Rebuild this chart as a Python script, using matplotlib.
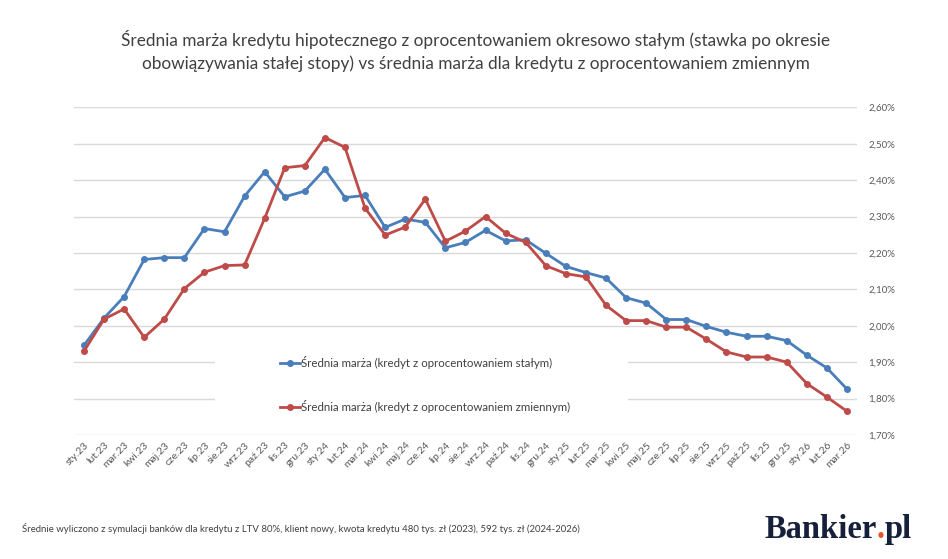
import matplotlib
matplotlib.use("Agg")
import matplotlib.pyplot as plt
from matplotlib.patches import Rectangle
from matplotlib.ticker import FuncFormatter, MultipleLocator

# months sty.23 .. mar.26
months = ["sty", "lut", "mar", "kwi", "maj", "cze", "lip", "sie", "wrz", "paź", "lis", "gru"]
labels = [f"{m}.{y}" for y in ("23", "24", "25") for m in months] + ["sty.26", "lut.26", "mar.26"]

# average margin, fixed-period rate loans (%)
fixed_margin = [
    1.946, 2.021, 2.080, 2.182, 2.187, 2.187, 2.267, 2.258, 2.356, 2.423, 2.354, 2.370,
    2.430, 2.352, 2.358, 2.270, 2.293, 2.284, 2.214, 2.229, 2.262, 2.233, 2.236, 2.199,
    2.163, 2.146, 2.131, 2.077, 2.062, 2.017, 2.017, 1.998, 1.982, 1.971, 1.971, 1.959,
    1.919, 1.884, 1.826,
]
# average margin, variable rate loans (%)
variable_margin = [
    1.930, 2.018, 2.046, 1.968, 2.018, 2.102, 2.147, 2.165, 2.167, 2.295, 2.434, 2.440,
    2.517, 2.490, 2.323, 2.249, 2.271, 2.348, 2.232, 2.260, 2.300, 2.254, 2.229, 2.165,
    2.143, 2.134, 2.056, 2.014, 2.014, 1.996, 1.996, 1.963, 1.928, 1.914, 1.914, 1.900,
    1.841, 1.804, 1.765,
]

fixed_name = "Średnia marża (kredyt z oprocentowaniem stałym)"
variable_name = "Średnia marża (kredyt z oprocentowaniem zmiennym)"
title = ("Średnia marża kredytu hipotecznego z oprocentowaniem okresowo stałym (stawka po okresie\n"
         "obowiązywania stałej stopy) vs średnia marża dla kredytu z oprocentowaniem zmiennym")
note = ("Średnie wyliczono z symulacji banków dla kredytu z LTV 80%, klient nowy, "
        "kwota kredytu 480 tys. zł (2023), 592 tys. zł (2024-2026)")

plt.rcParams["font.family"] = ["Lato", "DejaVu Sans"]

fig = plt.figure(figsize=(9.48, 5.59), dpi=100)
ax = fig.add_axes([0.078, 0.222, 0.826, 0.586])

x = list(range(len(labels)))
ax.plot(x, fixed_margin, color="#4A7EBB", lw=2.0, marker="o", ms=4, label=fixed_name, zorder=3)
ax.plot(x, variable_margin, color="#BE4B48", lw=2.0, marker="o", ms=4, label=variable_name, zorder=3)

ax.set_xlim(-0.5, len(labels) - 0.5)
ax.set_ylim(1.70, 2.60)
ax.yaxis.set_major_locator(MultipleLocator(0.10))
ax.yaxis.tick_right()
ax.yaxis.set_major_formatter(FuncFormatter(lambda v, p: f"{v:.2f}%".replace(".", ",")))
ax.grid(axis="y", color="#D9D9D9", lw=1)
ax.set_axisbelow(True)
for s in ax.spines.values():
    s.set_visible(False)
ax.tick_params(length=0, labelsize=7, labelcolor="#595959")
ax.tick_params(axis="y", pad=8)
ax.tick_params(axis="x", labelsize=7.5, pad=4)
ax.set_xticks(x)
ax.set_xticklabels(labels, rotation=45, ha="right", rotation_mode="anchor")

# white box behind legend hides grid lines
ax.add_patch(Rectangle((0.18, 0.05), 0.528, 0.24, transform=ax.transAxes,
                       facecolor="white", edgecolor="none", zorder=2))
ax.legend(loc="center left", bbox_to_anchor=(0.25, 0.155), frameon=False,
          fontsize=8.3, handlelength=1.7, handletextpad=0.1, labelspacing=2.7,
          labelcolor="#404040")

fig.text(0.502, 0.909, title, ha="center", va="center", fontsize=12.4,
         color="#404040", linespacing=1.45)
fig.text(0.023, 0.055, note, fontsize=6.95, color="#404040", va="center")

# Bankier.pl logo as text
logo_kw = dict(fontsize=23.5, fontweight="bold", family="Liberation Serif", va="center")
t1 = fig.text(0.806, 0.053, "Bankier", color="#17203B", **logo_kw)
fig.canvas.draw()
bb = t1.get_window_extent().transformed(fig.transFigure.inverted())
t2 = fig.text(bb.x1, 0.053, ".", color="#E8532B", **logo_kw)
fig.canvas.draw()
bb2 = t2.get_window_extent().transformed(fig.transFigure.inverted())
fig.text(bb2.x1, 0.053, "pl", color="#17203B", **logo_kw)

fig.savefig("out.png", dpi=100)
